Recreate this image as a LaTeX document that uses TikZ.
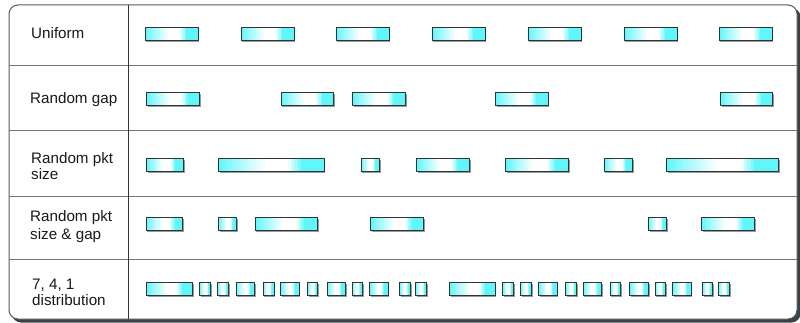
\documentclass[tikz,border=0pt]{standalone}
\usepackage{fontspec}
\setmainfont{Liberation Sans}
\usetikzlibrary{calc}
\definecolor{pc}{RGB}{96,246,250}
\definecolor{frameshade}{RGB}{58,66,72}
\definecolor{txt}{RGB}{25,25,25}
\definecolor{pshadow}{RGB}{150,155,158}
\tikzset{
  pkt box/.style={draw=black!80, line width=0.8pt, inner sep=0pt, outer sep=0pt,
    minimum height=13pt, rectangle,
    path picture={
      \foreach \k in {0,...,31}{
        \pgfmathsetmacro\fa{\k/32}
        \pgfmathsetmacro\fb{(\k+1.2)/32}
        \pgfmathsetmacro\ff{(\k+0.5)/32}
        \pgfmathsetmacro\pp{\ff<0.45 ? 100*(1-\ff/0.45) : (\ff<0.66 ? 0 : (\ff<0.79 ? 100*(\ff-0.66)/0.13 : 100))}
        \fill[pc!\pp!white] ($(path picture bounding box.south west)!\fa!(path picture bounding box.south east)$)
          rectangle ($(path picture bounding box.north west)!\fb!(path picture bounding box.north east)$);
      }
    }},
  pkt shadow/.style={fill=pshadow, draw=none, inner sep=0pt, outer sep=0pt, minimum height=13pt, rectangle},
  lbl/.style={anchor=base west, inner sep=0pt, text=txt, font=\fontsize{15.2}{16}\selectfont},
  rowline/.style={draw=black!55, line width=1.1pt},
  colline/.style={draw=black!80, line width=1pt}
}
\newcommand{\pktrow}[3]{%
  \foreach \a/\b [count=\i] in {#3}{
    \node[pkt shadow, minimum width={(\b-\a)*1pt}] (#1s\i) at ({(\a+\b)/2+1.3},{#2+1.7}) {};
    \node[pkt box, minimum width={(\b-\a)*1pt}] (#1\i) at ({(\a+\b)/2},#2) {};
  }}
\begin{document}
\begin{tikzpicture}[x=1pt,y=-1pt]
\useasboundingbox (0,0) rectangle (800,323);
% frame with shadow
\fill[frameshade, rounded corners=9pt] (12,8) rectangle (800.5,322.5);
\draw[fill=white, draw=black!65, line width=1pt, rounded corners=9pt] (9,5) rectangle (797,319);
% grid lines
\coordinate (c1) at (9,65.5);   \coordinate (c1e) at (797,65.5);
\coordinate (c2) at (9,130.7);  \coordinate (c2e) at (797,130.7);
\coordinate (c3) at (9,196.7);  \coordinate (c3e) at (797,196.7);
\coordinate (c4) at (9,259.5);  \coordinate (c4e) at (797,259.5);
\coordinate (vt) at (128,5);    \coordinate (vb) at (128,319);
\draw[rowline] (c1) -- (c1e);
\draw[rowline] (c2) -- (c2e);
\draw[rowline] (c3) -- (c3e);
\draw[rowline] (c4) -- (c4e);
\draw[colline] (vt) -- (vb);
% labels
\node[lbl] (l1) at (31,38.3) {Uniform};
\node[lbl] (l2) at (30,104) {Random gap};
\node[lbl] (l3a) at (31,163.3) {Random pkt};
\node[lbl] (l3b) at (31,179.3) {size};
\node[lbl] (l4a) at (30,222) {Random pkt};
\node[lbl] (l4b) at (30,239) {size \& gap};
\node[lbl] (l5a) at (32,289) {7, 4, 1};
\node[lbl] (l5b) at (32,305) {distribution};
% packets
\pktrow{pa}{33.5}{145/198, 241/294, 336/389, 432/485, 528/581, 624/677, 719/772}
\pktrow{pb}{99.2}{146.7/199.7, 281/333.7, 352.7/405.7, 495.3/548, 720.3/772.7}
\pktrow{pc}{164.8}{146.7/183.3, 218.3/324, 361/379.3, 416.7/469.7, 505.7/568.3, 604/632.3, 666.7/778.7}
\pktrow{pd}{223.8}{146/182.7, 218.3/236.7, 255/317.7, 370.3/423.3, 648.3/666.7, 701.3/754.3}
\pktrow{pe}{289.2}{146.7/192.3, 199.7/210.7, 217.7/228.7, 236/254.3, 263/274, 280.7/299, 307.7/317.7, 327/345.3, 352/362.3, 369.7/388, 399.7/410.3, 415.7/426.7, 449.3/495, 502.7/513.7, 520.3/531.3, 538.7/557, 565.7/576.7, 583/601.7, 610/620.7, 629.7/648.3, 655/665.3, 672.7/691, 702.3/712.7, 718.3/729.7}
\end{tikzpicture}
\end{document}
